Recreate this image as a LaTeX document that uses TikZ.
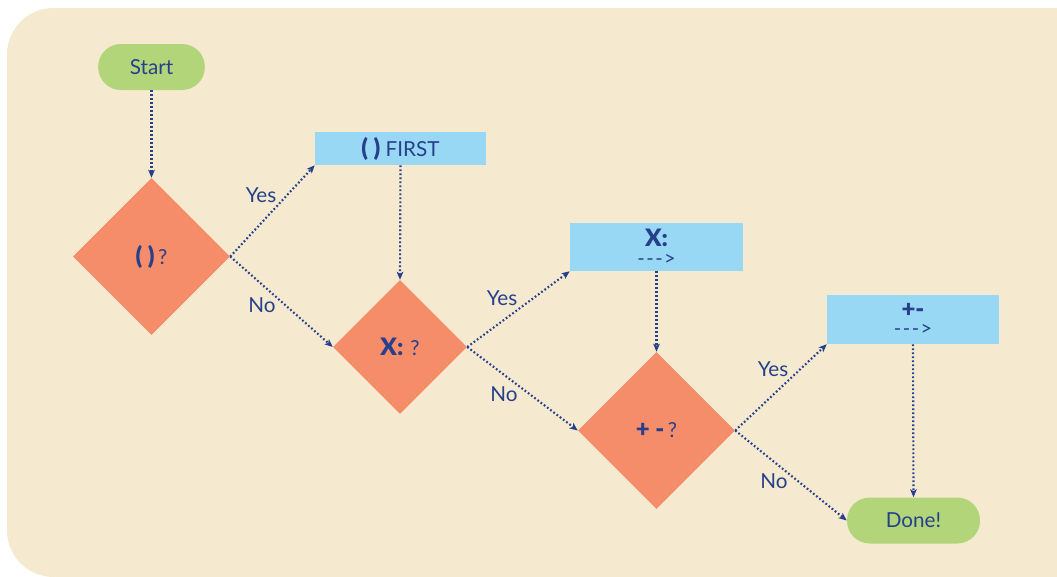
\documentclass[tikz,border=0pt]{standalone}
\usepackage{fontspec}
\setmainfont{Lato}
\newfontfamily\heavyfont{Lato Black}
\usetikzlibrary{shapes.geometric,arrows.meta}
\definecolor{bgc}{HTML}{F5EAD0}
\definecolor{greenc}{HTML}{B3D57A}
\definecolor{orangec}{HTML}{F58C6A}
\definecolor{bluec}{HTML}{99D8F5}
\definecolor{textc}{HTML}{27408B}
\newcommand{\sym}[1]{{\heavyfont #1}}
\newcommand{\bigsym}[1]{{\heavyfont\fontsize{18}{20}\selectfont #1}}
\newcommand{\darrow}{{\fontsize{15}{17}\selectfont -\kern1.2pt-\kern1.2pt-\kern1pt>}}
\tikzset{
  px/.style={x=0.75pt,y=-0.75pt},
  every node/.style={text=textc,font=\fontsize{15.5}{18}\selectfont},
  pill/.style={draw=none,fill=greenc,rounded corners=17pt,minimum height=34.5pt,inner sep=0pt},
  dec/.style={draw=none,fill=orangec,diamond,aspect=1,inner sep=0pt},
  boxn/.style={draw=none,fill=bluec,inner sep=0pt,align=center},
  conn/.style={draw=textc,line width=1.6pt,dash pattern=on 1.3pt off 1.7pt,-{Stealth[length=6pt,width=5pt,inset=1.5pt]}},
  lbl/.style={text=textc}
}
\begin{document}
\begin{tikzpicture}[px]
\useasboundingbox (0,0) rectangle (1057,576);
\fill[white] (0,0) rectangle (1057,576);
\begin{scope}
\clip (0,0) rectangle (1057,576);
\fill[bgc,rounded corners=35pt] (7,8) rectangle (1120,577);
\end{scope}
% nodes
\node[pill,minimum width=80pt] (start) at (151.5,67) {Start};
\node[dec,minimum width=117.75pt,minimum height=117.75pt] (d1) at (151.5,256.5) {\bigsym{( )}\,?};
\node[boxn,minimum width=128.25pt,minimum height=24.75pt] (b1) at (400.5,148.5) {\bigsym{( )} FIRST};
\node[dec,minimum width=100.5pt,minimum height=100.5pt] (d2) at (400,347) {\bigsym{X:}\,\,?};
\node[boxn,minimum width=129.75pt,minimum height=36pt] (b2) at (656.5,247) {\bigsym{X:}\\[-4pt]\darrow};
\node[dec,minimum width=117.75pt,minimum height=117.75pt] (d3) at (656.5,430.5) {\bigsym{+ -}\,?};
\node[boxn,minimum width=129pt,minimum height=36.75pt] (b3) at (913,319.5) {\bigsym{+-}\\[-4pt]\darrow};
\node[pill,minimum width=99.75pt] (done) at (913.5,520.5) {Done!};
% connectors
\draw[conn] (start.south) -- (d1.north);
\draw[conn] (d1.east) -- (b1.south west);
\draw[conn] (d1.east) -- (d2.west);
\draw[conn] (b1.south) -- (d2.north);
\draw[conn] (d2.east) -- (b2.south west);
\draw[conn] (d2.east) -- (d3.west);
\draw[conn] (b2.south) -- (d3.north);
\draw[conn] (d3.east) -- (b3.south west);
\draw[conn] (d3.east) -- (done.west);
\draw[conn] (b3.south) -- (done.north);
% labels
\node[lbl] (y1) at (261,195) {Yes};
\node[lbl] (n1) at (262,305) {No};
\node[lbl] (y2) at (502,298) {Yes};
\node[lbl] (n2) at (504,394) {No};
\node[lbl] (y3) at (773,369) {Yes};
\node[lbl] (n3) at (774,481) {No};
\end{tikzpicture}
\end{document}
